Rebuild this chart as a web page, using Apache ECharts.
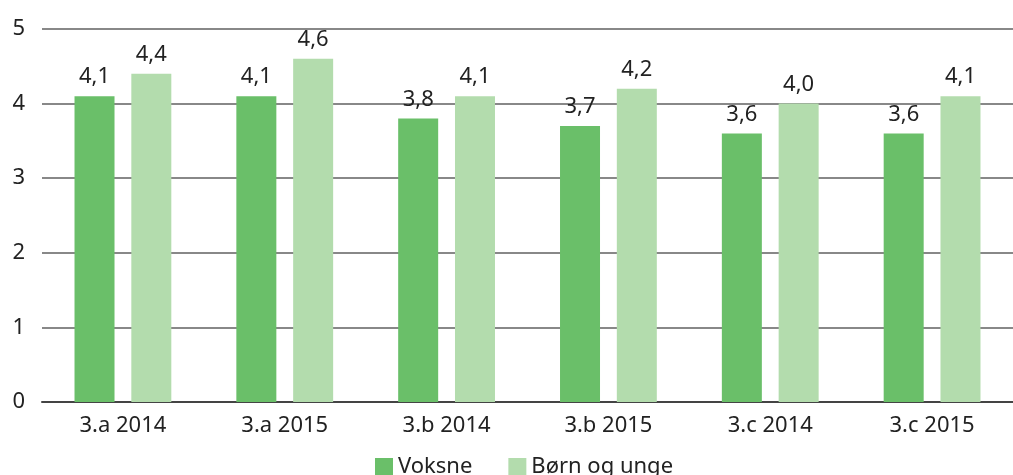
<!DOCTYPE html>
<html>
<head>
<meta charset="utf-8">
<script src="https://cdn.jsdelivr.net/npm/echarts@6/dist/echarts.min.js"></script>
<style>
  html, body { margin: 0; padding: 0; background: #fff; }
  #chart { width: 1013px; height: 475px; }
</style>
</head>
<body>
<div id="chart"></div>
<script>
// kategorier og værdier
var categories = ["3.a 2014", "3.a 2015", "3.b 2014", "3.b 2015", "3.c 2014", "3.c 2015"];
var voksne = [4.1, 4.1, 3.8, 3.7, 3.6, 3.6];
var bornOgUnge = [4.4, 4.6, 4.1, 4.2, 4.0, 4.1];
var yTicks = [0, 1, 2, 3, 4, 5];

var font = "'Noto Sans', sans-serif";
var chart = echarts.init(document.getElementById("chart"));

function labelFmt(p) {
    return p.value.toFixed(1).replace(".", ",");
}

chart.setOption({
    animation: false,
    textStyle: { fontFamily: font },
    grid: { left: 42, right: -7, top: 29, bottom: 73 },
    legend: {
        left: 370, top: 451,
        itemWidth: 18, itemHeight: 18, itemGap: 36,
        icon: "rect",
        textStyle: { fontSize: 22, color: "#222", fontFamily: font },
        data: ["Voksne", "Børn og unge"]
    },
    xAxis: {
        type: "category",
        data: categories,
        axisTick: { show: false },
        axisLine: { lineStyle: { color: "#444", width: 2 } },
        axisLabel: { fontSize: 22, color: "#222", margin: 13, fontFamily: font }
    },
    yAxis: {
        type: "value",
        min: yTicks[0], max: yTicks[yTicks.length - 1], interval: 1,
        axisLabel: { fontSize: 22, color: "#222", margin: 17, fontFamily: font },
        splitLine: { lineStyle: { color: "#888", width: 2 } }
    },
    series: [
        {
            name: "Voksne", type: "bar", data: voksne,
            barWidth: 40, barGap: "42%",
            itemStyle: { color: "#6abf69" },
            label: { show: true, position: "top", distance: 8, fontSize: 22, color: "#222", formatter: labelFmt, fontFamily: font }
        },
        {
            name: "Børn og unge", type: "bar", data: bornOgUnge,
            barWidth: 40,
            itemStyle: { color: "#b3dcad" },
            label: { show: true, position: "top", distance: 8, fontSize: 22, color: "#222", formatter: labelFmt, fontFamily: font }
        }
    ]
});
</script>
</body>
</html>
